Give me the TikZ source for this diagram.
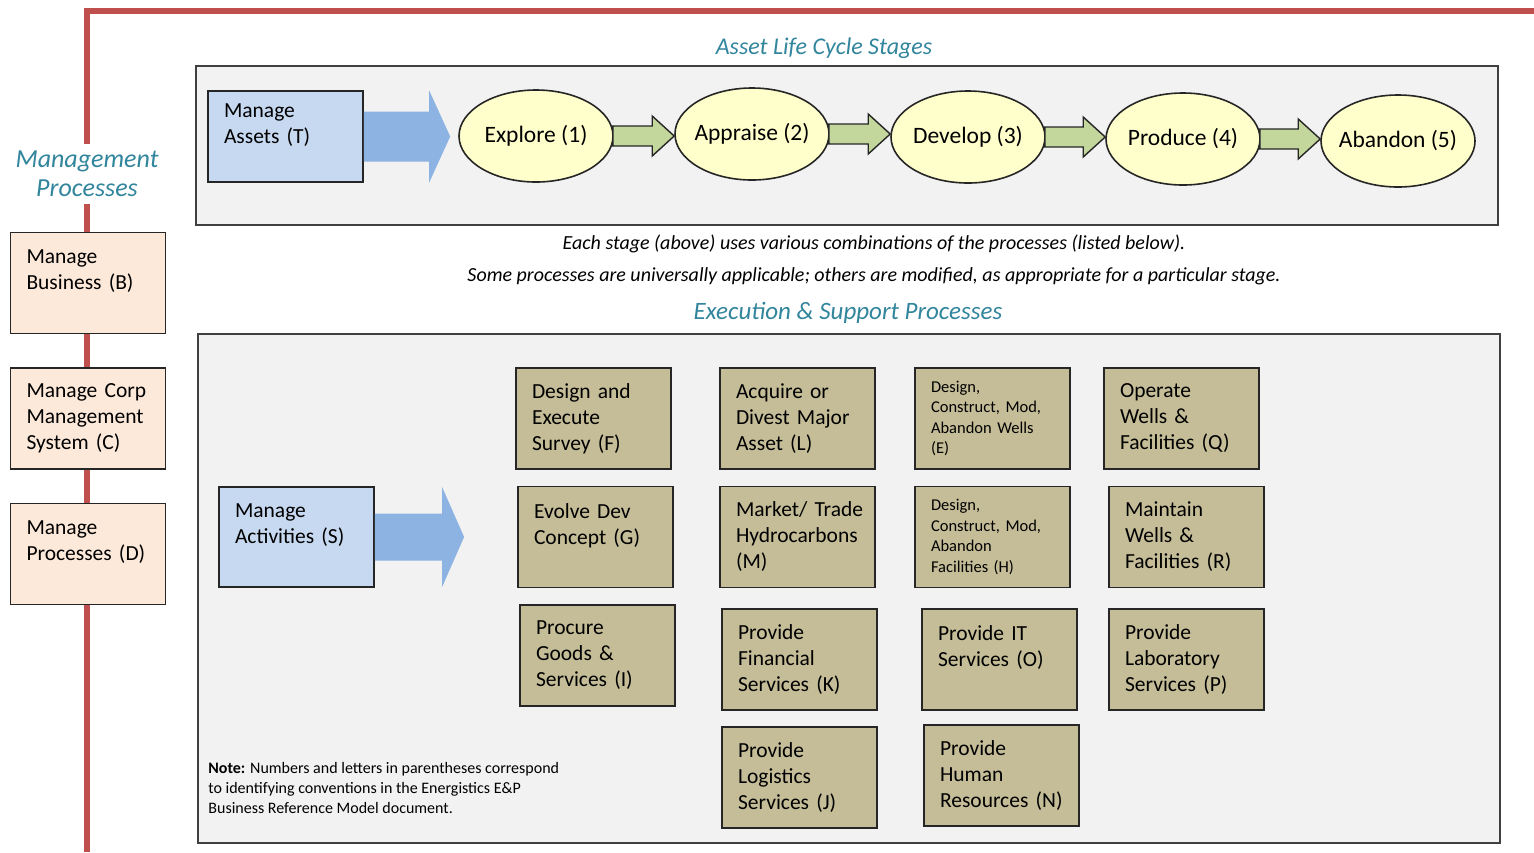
\documentclass[tikz,border=0pt]{standalone}
\usepackage{fontspec}
\setmainfont{Carlito}
\usetikzlibrary{shapes.geometric,calc}
\definecolor{panelgray}{HTML}{F2F2F2}
\definecolor{assetblue}{HTML}{C6D9F1}
\definecolor{arrowblue}{HTML}{8DB3E2}
\definecolor{stageyellow}{HTML}{FFFFCC}
\definecolor{stagegreen}{HTML}{C3D69B}
\definecolor{proctan}{HTML}{C4BD97}
\definecolor{mgmtpeach}{HTML}{FDE9D9}
\definecolor{mgmtred}{HTML}{C0504D}
\definecolor{headteal}{HTML}{31859C}
\begin{document}
\begin{tikzpicture}[x=0.5pt,y=-0.5pt,
   every node/.style={font=\fontsize{10.75}{13}\selectfont},
   panel/.style={draw=black!75,line width=1pt,fill=panelgray},
   heading/.style={font=\fontsize{12}{14}\selectfont\itshape,text=headteal},
   remark/.style={font=\fontsize{10}{12}\selectfont\itshape},
   smalltext/.style={font=\fontsize{8.25}{10.25}\selectfont},
   procbox/.style={draw=black!85,line width=0.9pt,minimum width=77.5pt,minimum height=50.5pt,
                   text width=61.5pt,inner xsep=8pt,align=left},
   mgmt/.style={procbox,fill=mgmtpeach},
   actor/.style={procbox,fill=assetblue},
   proc/.style={procbox,fill=proctan},
   stage/.style={draw=black!85,line width=0.8pt,ellipse,fill=stageyellow,
                 minimum width=77pt,minimum height=46pt,inner xsep=-10pt,inner ysep=0pt,
                 font=\fontsize{11.75}{14}\selectfont},
   bigarrow/.style={fill=arrowblue},
   stagearrow/.style={draw=black!85,line width=0.7pt,fill=stagegreen}]

\fill[white] (0,0) rectangle (1534,852);
\useasboundingbox (0,0) rectangle (1534,852);

\draw[mgmtred,line width=3pt] (87,852) -- (87,11) -- (1534,11);

\draw[panel] (196,66) rectangle (1498,225);
\draw[panel] (198,334) rectangle (1500,843);

\node[heading] (lifecycle) at (824,48) {Asset Life Cycle Stages};
\node[heading,font=\fontsize{13}{14.5}\selectfont\itshape,fill=white,align=center] (mgmthead) at (87,174) {Management\\Processes};
\node[remark] (cap1) at (874,244) {Each stage (above) uses various combinations of the processes (listed below).};
\node[remark] (cap2) at (874,276) {Some processes are universally applicable; others are modified, as appropriate for a particular stage.};
\node[heading,font=\fontsize{12.5}{14}\selectfont\itshape] (exechead) at (848,313) {Execution \& Support Processes};

\node[mgmt] (B) at (88,283) {Manage\\Business (B)\\~};
\node[mgmt] (C) at (88,418.5) {Manage Corp\\Management\\System (C)};
\node[mgmt] (D) at (88,554) {Manage\\Processes (D)\\~};

\node[actor,minimum height=45.5pt] (T) at (285.5,136.5) {Manage\\Assets (T)\\~};
\node[stage] (st1) at (536,136) {Explore (1)};
\node[stage] (st2) at (752,134) {Appraise (2)};
\node[stage] (st3) at (968,137) {Develop (3)};
\node[stage] (st4) at (1183,139) {Produce (4)};
\node[stage] (st5) at (1398,141) {Abandon (5)};

\fill[bigarrow] let \p1=(T.east), \p2=(st1.west) in
   (\x1,\y1+12.5pt) -- (\x2-14.5pt,\y1+12.5pt) -- (\x2-14.5pt,\y1+23pt) -- (\x2-4pt,\y1)
   -- (\x2-14.5pt,\y1-23pt) -- (\x2-14.5pt,\y1-12.5pt) -- (\x1,\y1-12.5pt) -- cycle;

\foreach \a/\b in {st1/st2,st2/st3,st3/st4,st4/st5}
   \draw[stagearrow] let \p1=(\a.east), \p2=(\b.west) in
      (\x1-0.5pt,\y1+5pt) -- (\x2-11pt,\y1+5pt) -- (\x2-11pt,\y1+10pt) -- (\x2,\y1)
      -- (\x2-11pt,\y1-10pt) -- (\x2-11pt,\y1-5pt) -- (\x1-0.5pt,\y1-5pt) -- cycle;

\node[actor,minimum height=50pt] (S) at (296.5,537) {Manage\\Activities (S)\\~};

\node[proc] (F) at (593.5,418.5) {Design and\\Execute\\Survey (F)};
\node[proc] (G) at (595.5,537) {Evolve Dev\\Concept (G)\\~};
\node[proc] (I) at (597.5,655.5) {Procure\\Goods \&\\Services (I)};
\node[proc] (L) at (797.5,418.5) {Acquire or\\Divest Major\\Asset (L)};
\node[proc] (M) at (797.5,537) {Market/~Trade\\Hydrocarbons\\(M)};
\node[proc] (K) at (799.5,659.5) {Provide\\Financial\\Services (K)};
\node[proc] (J) at (799.5,777.5) {Provide\\Logistics\\Services (J)};
\node[proc,smalltext] (E) at (992.5,418.5) {Design,\\Construct, Mod,\\Abandon Wells\\(E)};
\node[proc,smalltext] (H) at (992.5,537) {Design,\\Construct, Mod,\\Abandon\\Facilities (H)};
\node[proc] (O) at (999.5,659.5) {Provide IT\\Services (O)\\~};
\node[proc] (N) at (1001.5,775.5) {Provide\\Human\\Resources (N)};
\node[proc] (Q) at (1181.5,418.5) {Operate\\Wells \&\\Facilities (Q)};
\node[proc] (R) at (1186.5,537) {Maintain\\Wells \&\\Facilities (R)};
\node[proc] (P) at (1186.5,659.5) {Provide\\Laboratory\\Services (P)};

\fill[bigarrow] let \p1=(S.east), \p2=(G.west) in
   (\x1,\y1+11.75pt) -- (\x2-37.5pt,\y1+11.75pt) -- (\x2-37.5pt,\y1+25pt) -- (\x2-26.5pt,\y1)
   -- (\x2-37.5pt,\y1-25pt) -- (\x2-37.5pt,\y1-11.75pt) -- (\x1,\y1-11.75pt) -- cycle;

\node[smalltext,font=\fontsize{8}{10}\selectfont,anchor=north west,align=left,inner sep=0pt] (note) at (208,762)
   {\textbf{Note:} Numbers and letters in parentheses correspond\\to identifying conventions in the Energistics E\&P\\Business Reference Model document.};

\end{tikzpicture}
\end{document}
